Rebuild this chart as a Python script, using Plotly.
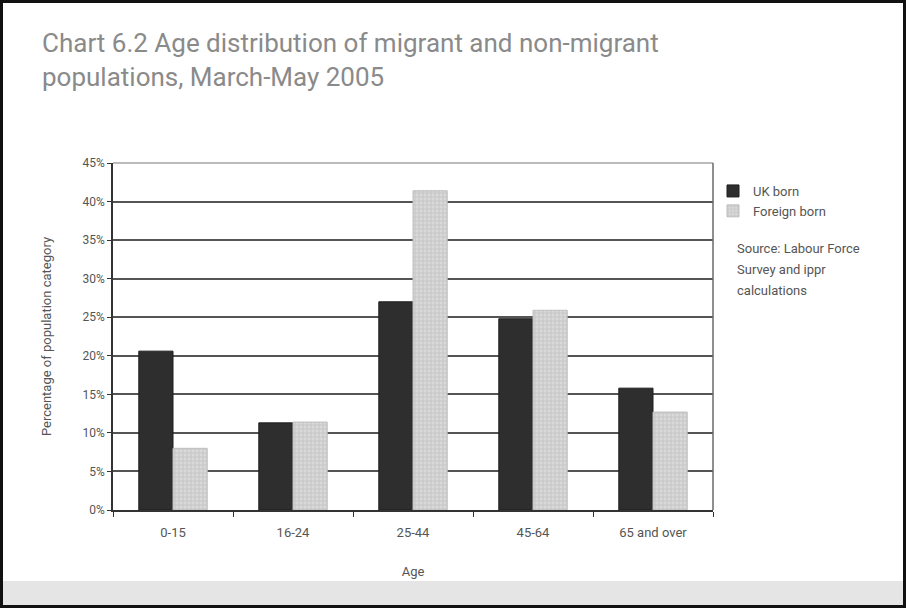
import plotly.graph_objects as go

# Age bands and shares of each population (percent)
age_groups = ["0-15", "16-24", "25-44", "45-64", "65 and over"]
uk_born = [20.6, 11.3, 27.0, 24.8, 15.8]
foreign_born = [8.0, 11.4, 41.4, 25.9, 12.7]
y_ticks = [0, 5, 10, 15, 20, 25, 30, 35, 40, 45]
y_tick_labels = [f"{v}%" for v in y_ticks]
source_lines = ["Source: Labour Force", "Survey and ippr", "calculations"]

W, H = 906, 608
L, R, T, B = 113, 713, 163, 510  # plot area in pixels


def px_x(px):
    return (px - L) / (R - L)


def px_y(py):
    return (B - py) / (B - T)


fig = go.Figure()
fig.add_trace(go.Bar(
    name="UK born", x=age_groups, y=uk_born,
    marker=dict(color="#2e2e2e", line=dict(color="#1e1e1e", width=1)),
))
fig.add_trace(go.Bar(
    name="Foreign born", x=age_groups, y=foreign_born,
    marker=dict(color="#d6d6d6", line=dict(color="#bdbdbd", width=1),
                pattern=dict(shape="+", fgcolor="#a9a9a9", bgcolor="#d9d9d9",
                             size=4, solidity=0.35, fillmode="overlay")),
))

text_color = "#555555"
fig.update_layout(
    width=W, height=H,
    margin=dict(l=L, r=W - R, t=T, b=H - B),
    paper_bgcolor="white", plot_bgcolor="white",
    barmode="group", bargap=0.43, bargroupgap=0,
    font=dict(family="Roboto, Arial, sans-serif", color=text_color, size=12),
    showlegend=True,
    legend=dict(x=px_x(713), y=px_y(176), xanchor="left", yanchor="top",
                font=dict(size=13, color=text_color), bgcolor="rgba(0,0,0,0)",
                itemwidth=30, tracegroupgap=4),
    xaxis=dict(showgrid=False, showline=True, linecolor="#333333", linewidth=1.5,
               ticks="outside", tickson="boundaries", ticklen=5, tickcolor="#333333",
               tickfont=dict(size=13, color=text_color), ticklabelstandoff=10,
               title=dict(text="Age", font=dict(size=13, color=text_color), standoff=28),
               mirror=False),
    yaxis=dict(range=[0, 45], tickvals=y_ticks, ticktext=y_tick_labels,
               showgrid=True, gridcolor="#555555", gridwidth=1.6,
               showline=True, linecolor="#333333", linewidth=1.5,
               ticks="outside", ticklen=4, tickcolor="#333333",
               tickfont=dict(size=12, color=text_color),
               title=dict(text="Percentage of population category",
                          font=dict(size=13, color=text_color), standoff=28),
               zeroline=False),
)

# Top and right edges of the plot frame
fig.add_shape(type="line", xref="paper", yref="paper", x0=0, x1=1, y0=1, y1=1,
              line=dict(color="#bbbbbb", width=2))
fig.add_shape(type="line", xref="paper", yref="paper", x0=1, x1=1, y0=0, y1=1,
              line=dict(color="#6a6a6a", width=1.5))

# Grey footer band and outer frame
fig.add_shape(type="rect", xref="paper", yref="paper",
              x0=px_x(2), x1=px_x(904), y0=px_y(605), y1=px_y(581),
              fillcolor="#e5e5e5", line=dict(width=0), layer="below")
fig.add_shape(type="rect", xref="paper", yref="paper",
              x0=px_x(1.5), x1=px_x(904.5), y0=px_y(606.5), y1=px_y(1.5),
              fillcolor="rgba(0,0,0,0)", line=dict(color="#111111", width=3))

# Title
fig.add_annotation(
    text="Chart 6.2 Age distribution of migrant and non-migrant<br>populations, March-May 2005",
    xref="paper", yref="paper", x=px_x(40), y=px_y(26), xanchor="left", yanchor="top",
    align="left", showarrow=False,
    font=dict(family="Roboto, Arial, sans-serif", size=26, color="#8a8a8a"),
)

# Source note, one line per annotation for wider line spacing
for i, line in enumerate(source_lines):
    fig.add_annotation(
        text=line, xref="paper", yref="paper", x=px_x(735), y=px_y(248 + 21 * i),
        xanchor="left", yanchor="middle", showarrow=False,
        font=dict(size=13, color=text_color),
    )

fig.write_html("out.html")
